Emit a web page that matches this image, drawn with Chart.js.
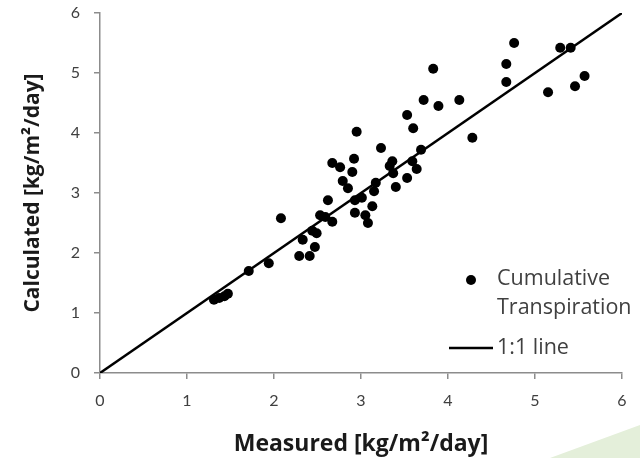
<!DOCTYPE html>
<html>
<head>
<meta charset="utf-8">
<script src="https://cdn.jsdelivr.net/npm/chart.js@4.4.1/dist/chart.umd.min.js"></script>
<style>
  html, body { margin: 0; padding: 0; background: #fff; }
  #wrap { position: relative; width: 640px; height: 458px; }
</style>
</head>
<body>
<div id="wrap"><canvas id="myChart" width="640" height="458"></canvas></div>
<script>
// measured vs calculated daily transpiration
var measured = [1.31, 1.37, 1.43, 1.47, 1.71, 1.94, 2.08, 2.29, 2.41, 2.33,
  2.47, 2.44, 2.49, 2.53, 2.62, 2.59, 2.67, 2.79, 2.85, 2.76,
  2.67, 2.92, 2.90, 2.93, 3.01, 2.93, 3.05, 3.08, 2.95, 3.13,
  3.15, 3.17, 3.23, 3.36, 3.33, 3.37, 3.40, 3.53, 3.59, 3.64,
  3.69, 3.53, 3.60, 3.72, 3.89, 4.13, 3.83, 4.28, 4.67, 4.67,
  4.76, 5.15, 5.29, 5.41, 5.46, 5.57];
var calculated = [1.22, 1.25, 1.28, 1.32, 1.70, 1.83, 2.58, 1.95, 1.95, 2.22,
  2.10, 2.37, 2.33, 2.63, 2.88, 2.60, 2.52, 3.20, 3.08, 3.43,
  3.50, 3.57, 3.35, 2.88, 2.92, 2.67, 2.63, 2.50, 4.02, 2.78,
  3.03, 3.17, 3.75, 3.53, 3.45, 3.33, 3.10, 3.25, 3.53, 3.40,
  3.72, 4.30, 4.08, 4.55, 4.45, 4.55, 5.07, 3.92, 5.15, 4.85,
  5.50, 4.68, 5.42, 5.42, 4.78, 4.95];
var lineX = [0, 6];
var lineY = [0, 6];
var axisMin = 0;
var axisMax = 6;
var xTitle = "Measured [kg/m\u00b2/day]";
var yTitle = "Calculated [kg/m\u00b2/day]";
var pointLabel = ["Cumulative", "Transpiration"];
var lineLabel = "1:1 line";

var pts = measured.map(function (x, i) { return { x: x, y: calculated[i] }; });
var linePts = lineX.map(function (x, i) { return { x: x, y: lineY[i] }; });

var axisGray = "#8c8c8c";
var textGray = "#404040";

// light green slide decoration in the lower right corner
const cornerShape = {
  id: "cornerShape",
  beforeDraw: function (chart) {
    var ctx = chart.ctx;
    ctx.save();
    ctx.fillStyle = "#e4efda";
    ctx.beginPath();
    ctx.moveTo(550, 458);
    ctx.lineTo(640, 425);
    ctx.lineTo(640, 458);
    ctx.closePath();
    ctx.fill();
    ctx.restore();
  }
};

// legend drawn inside the plot, bottom right
const innerLegend = {
  id: "innerLegend",
  afterDraw: function (chart) {
    var ctx = chart.ctx;
    var ds = chart.data.datasets;
    ctx.save();
    ctx.fillStyle = ds[0].backgroundColor;
    ctx.beginPath();
    ctx.arc(471, 280, 5, 0, Math.PI * 2);
    ctx.fill();
    ctx.strokeStyle = ds[1].borderColor;
    ctx.lineWidth = ds[1].borderWidth;
    ctx.beginPath();
    ctx.moveTo(449, 348);
    ctx.lineTo(493, 348);
    ctx.stroke();
    ctx.font = "21.5px 'Open Sans'";
    ctx.fillStyle = textGray;
    ctx.textBaseline = "middle";
    ctx.fillText(ds[0].label[0], 497, 279);
    ctx.fillText(ds[0].label[1], 497, 308);
    ctx.fillText(ds[1].label, 497, 348);
    ctx.restore();
  }
};

new Chart("myChart", {
  type: "scatter",
  data: {
    datasets: [{
      label: pointLabel,
      data: pts,
      backgroundColor: "#000000",
      borderColor: "#000000",
      pointRadius: 5,
      pointHoverRadius: 5,
      borderWidth: 0
    }, {
      label: lineLabel,
      data: linePts,
      showLine: true,
      borderColor: "#000000",
      borderWidth: 2.5,
      pointRadius: 0,
      fill: false
    }]
  },
  options: {
    responsive: false,
    animation: false,
    layout: { padding: { left: 20, right: 18, top: 13, bottom: 0 } },
    plugins: {
      legend: { display: false },
      tooltip: { enabled: false }
    },
    scales: {
      x: {
        type: "linear",
        min: axisMin,
        max: axisMax,
        ticks: { stepSize: 1, color: textGray, font: { family: "Lato", size: 16 }, padding: 12 },
        grid: { drawOnChartArea: false, drawTicks: true, tickLength: 6, color: axisGray, lineWidth: 1.5 },
        border: { display: true, color: axisGray, width: 1.5 },
        title: { display: true, text: xTitle, color: "#1a1a1a", font: { family: "Open Sans", size: 23, weight: "bold" }, padding: { top: 6, bottom: 0 } },
        afterFit: function (scale) {
          scale.height = 85;
          scale.paddingLeft = 0;
          scale.paddingRight = 0;
        }
      },
      y: {
        type: "linear",
        min: axisMin,
        max: axisMax,
        ticks: { stepSize: 1, color: textGray, font: { family: "Lato", size: 16 }, padding: 14 },
        grid: { drawOnChartArea: false, drawTicks: true, tickLength: 6, color: axisGray, lineWidth: 1.5 },
        border: { display: true, color: axisGray, width: 1.5 },
        title: { display: true, text: yTitle, color: "#1a1a1a", font: { family: "Open Sans", size: 21, weight: "bold" }, padding: { top: 0, bottom: 10 } },
        afterFit: function (scale) {
          scale.width = 80;
          scale.paddingTop = 0;
          scale.paddingBottom = 0;
        }
      }
    }
  },
  plugins: [cornerShape, innerLegend]
});
</script>
</body>
</html>
